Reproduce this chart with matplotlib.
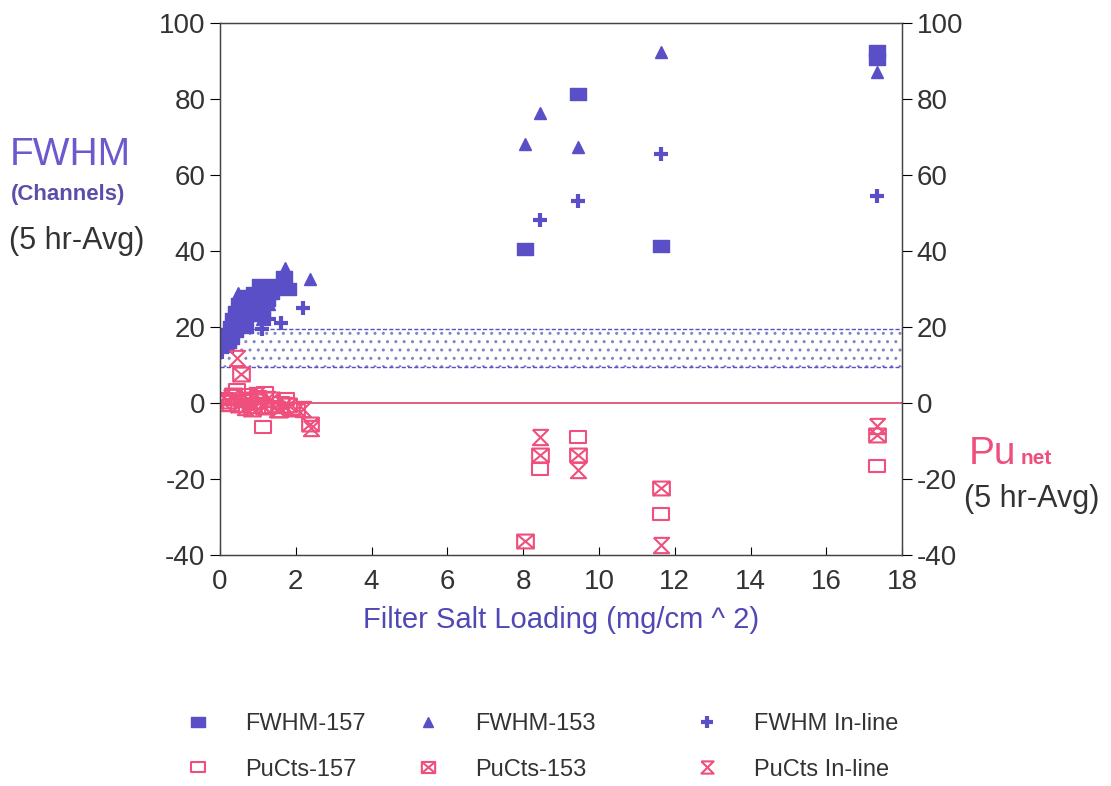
import numpy as np
import matplotlib.pyplot as plt
from matplotlib.path import Path

plt.rcParams['font.family'] = ['Liberation Sans', 'DejaVu Sans']
plt.rcParams['axes.unicode_minus'] = False

# FWHM series (left axis)
fwhm157_x = [0.12, 0.18, 0.22, 0.28, 0.3, 0.35, 0.4, 0.42, 0.48, 0.5, 0.55, 0.6, 0.65,
             0.7, 0.75, 0.8, 0.85, 0.9, 1.0, 1.05, 1.1, 1.2, 1.25, 1.35, 1.5, 1.7, 1.8,
             8.05, 9.45, 11.65, 17.35, 17.35]
fwhm157_y = [15, 18, 16, 20, 17, 22, 19, 24, 21, 26, 23, 27, 20,
             25, 28, 23, 26, 29, 27, 31, 24, 30, 27, 29, 31, 33, 30,
             40.5, 81.2, 41.2, 92.5, 90.5]
fwhm153_x = [0.2, 0.35, 0.47, 0.6, 0.75, 0.9, 1.1, 1.3, 1.72, 2.37,
             8.05, 8.45, 9.45, 11.65, 17.35]
fwhm153_y = [16, 22, 29, 25, 27, 24, 22, 26, 35.5, 32.5,
             68.2, 76.3, 67.2, 92.2, 87.0]
fwhminl_x = [0.05, 0.3, 0.5, 0.7, 0.9, 1.1, 1.3, 1.6, 2.2,
             8.45, 9.45, 11.65, 17.35]
fwhminl_y = [13.5, 17, 19, 21, 23, 19.5, 22, 21, 25,
             48.2, 53.2, 65.4, 54.5]

# Pu counts series (right axis)
pu157_x = [0.15, 0.3, 0.45, 0.6, 0.75, 0.9, 1.0, 1.13, 1.2, 1.4, 1.6, 1.75, 1.9,
           8.45, 9.45, 11.65, 17.35]
pu157_y = [1, -0.5, 3.5, 0.5, 2, -1, 1.5, -6.3, 2.5, -1, 0, 1, -1.5,
           -17.4, -8.9, -29.3, -16.5]
pu153_x = [0.2, 0.35, 0.5, 0.55, 0.7, 0.85, 1.0, 1.15, 1.35, 1.55, 1.8, 2.0, 2.37,
           8.05, 8.45, 9.45, 11.65, 17.35]
pu153_y = [0.5, 2, -0.5, 7.5, 1, -1.5, 0.5, -1, 1, -2, -0.5, -1.5, -5.5,
           -36.3, -13.7, -13.7, -22.3, -8.5]
puinl_x = [0.1, 0.3, 0.45, 0.65, 0.8, 0.95, 1.1, 1.25, 1.5, 1.7, 2.2, 2.4,
           8.45, 9.45, 11.65, 17.35]
puinl_y = [0, 1.5, 11.8, -1, 0.5, 2, -0.5, 1, -1.5, -0.5, -1.5, -6.5,
           -8.9, -17.6, -37.3, -6.0]

band_lo, band_hi = 9.5, 19.5

blue = '#5a4fc6'
pink = '#ee4f7c'
textgray = '#333333'

# custom markers: boxed X and hourglass
box_x = Path([(-1.2, -1), (1.2, -1), (1.2, 1), (-1.2, 1), (-1.2, -1),
              (1.2, 1), (-1.2, 1), (1.2, -1)],
             [Path.MOVETO, Path.LINETO, Path.LINETO, Path.LINETO, Path.LINETO,
              Path.LINETO, Path.MOVETO, Path.LINETO])
hourglass = Path([(-1, 1), (1, 1), (-1, -1), (1, -1), (-1, 1)],
                 [Path.MOVETO, Path.LINETO, Path.LINETO, Path.LINETO, Path.LINETO])
rect = Path([(-1.3, -1), (1.3, -1), (1.3, 1), (-1.3, 1), (-1.3, -1)],
            [Path.MOVETO, Path.LINETO, Path.LINETO, Path.LINETO, Path.CLOSEPOLY])

fig = plt.figure(figsize=(11.11, 7.86), dpi=100)
ax = fig.add_axes([0.198, 0.294, 0.614, 0.677])

ax.fill_between([0, 18], band_lo, band_hi, facecolor='none', edgecolor='#7f86c4',
                hatch='..', linewidth=0)
ax.axhline(band_lo, color=blue, ls=(0, (3, 1.5)), lw=1)
ax.axhline(band_hi, color=blue, ls=(0, (3, 1.5)), lw=1)
ax.axhline(0, color='#d9446a', lw=1.2)

h1, = ax.plot(fwhm157_x, fwhm157_y, ls='none', marker=rect, ms=12, color=blue,
              label='FWHM-157')
h2, = ax.plot(fwhm153_x, fwhm153_y, ls='none', marker='^', ms=9, color=blue,
              label='FWHM-153')
h3, = ax.plot(fwhminl_x, fwhminl_y, ls='none', marker='+', ms=10, mew=3, color=blue,
              label='FWHM In-line')
h4, = ax.plot(pu157_x, pu157_y, ls='none', marker=rect, ms=12, mfc='none', mew=1.5,
              color=pink, label='PuCts-157')
h5, = ax.plot(pu153_x, pu153_y, ls='none', marker=box_x, ms=12, mfc='none', mew=1.5,
              color=pink, label='PuCts-153')
h6, = ax.plot(puinl_x, puinl_y, ls='none', marker=hourglass, ms=11, mfc='none', mew=1.5,
              color=pink, label='PuCts In-line')

ax.set_xlim(0, 18)
ax.set_ylim(-40, 100)
ax.set_xticks(np.arange(0, 19, 2))
ax.set_yticks(np.arange(-40, 101, 20))
ax.tick_params(axis='x', direction='in', labelsize=20, length=6, pad=10,
               labelcolor=textgray)
ax.tick_params(axis='y', direction='out', labelsize=20, length=7,
               labelcolor=textgray)
for s in ax.spines.values():
    s.set_linewidth(1)
    s.set_color('#444444')

ax2 = ax.twinx()
ax2.set_ylim(-40, 100)
ax2.set_yticks(np.arange(-40, 101, 20))
ax2.tick_params(axis='y', direction='out', labelsize=20, length=7,
                labelcolor=textgray)
for s in ax2.spines.values():
    s.set_color('#444444')

ax.set_xlabel('Filter Salt Loading (mg/cm ^ 2)', fontsize=21, color='#5048b4',
              labelpad=8)

fig.text(0.009, 0.79, 'FWHM', fontsize=28, color='#6a5acd')
fig.text(0.010, 0.745, '(Channels)', fontsize=16, color='#5a4fa8', weight='bold')
fig.text(0.008, 0.683, '(5 hr-Avg)', fontsize=22, color=textgray)
fig.text(0.872, 0.41, 'Pu', fontsize=28, color=pink)
fig.text(0.919, 0.41, 'net', fontsize=15, color=pink, weight='bold')
fig.text(0.868, 0.355, '(5 hr-Avg)', fontsize=22, color=textgray)

# legend: one column per marker pair, FWHM on top row, PuCts below
for pair, x0 in [((h1, h4), 0.1431), ((h2, h5), 0.3501), ((h3, h6), 0.6013)]:
    leg = fig.legend(list(pair), [h.get_label() for h in pair],
                     loc='upper left', bbox_to_anchor=(x0, 0.120), frameon=False,
                     fontsize=17, handlelength=1.5, handletextpad=1.24,
                     labelspacing=1.0, labelcolor=textgray, markerscale=0.8)

fig.savefig('out.png', dpi=100)
